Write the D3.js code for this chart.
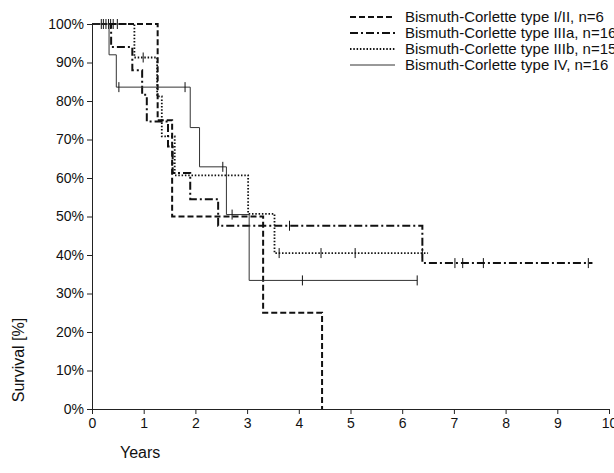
<!DOCTYPE html>
<html><head><meta charset="utf-8">
<script src="https://cdn.jsdelivr.net/npm/d3@7"></script>
<style>body{margin:0;background:#fff}svg{display:block;font-family:"Liberation Sans",Arial,sans-serif}</style>
</head><body><svg id="c" width="614" height="473"></svg>
<script>
const xTicks = [0,1,2,3,4,5,6,7,8,9,10];
const yTicks = [0,10,20,30,40,50,60,70,80,90,100];
const seriesNames = ["Bismuth-Corlette type I/II, n=6","Bismuth-Corlette type IIIa, n=16","Bismuth-Corlette type IIIb, n=15","Bismuth-Corlette type IV, n=16"];

const t12 = [0,1.27,1.55,3.31,4.45];
const s12 = [100,75,50,25,0];
const c12T = [0.36,0.49];
const c12S = [100,100];

const t3a = [0,0.37,0.78,0.97,1.06,1.47,1.56,1.9,2.44,6.39,9.68];
const s3a = [100,94,88,81.6,74.7,68.2,61.3,54.5,47.6,37.9,37.9];
const c3aT = [0.22,0.32,3.82,7.02,7.17,7.57,9.6];
const c3aS = [100,100,47.6,37.9,37.9,37.9,37.9];

const t3b = [0,0.82,1.26,1.35,1.6,3.02,3.53,6.5];
const s3b = [100,91.3,81.2,70.8,60.7,50.7,40.5,40.5];
const c3bT = [0.18,0.27,0.41,0.99,3.62,4.43,5.09,6.39];
const c3bS = [100,100,100,91.3,40.5,40.5,40.5,40.5];

const t4 = [0,0.33,0.47,1.9,2.08,2.6,3.04,6.29];
const s4 = [100,92,83.6,73.1,62.9,50.5,33.4,33.4];
const c4T = [0.52,1.8,2.53,2.71,4.07,6.29];
const c4S = [83.6,83.6,62.9,50.5,33.4,33.4];

const styles = [
  {w:2, dash:"6,3", color:"#111"},
  {w:2, dash:"8,3,2,3", color:"#111"},
  {w:1.8, dash:"1.5,1.8", color:"#111"},
  {w:1, dash:null, color:"#333"}
];
const series = [
  {t:t12,s:s12,ct:c12T,cs:c12S},
  {t:t3a,s:s3a,ct:c3aT,cs:c3aS},
  {t:t3b,s:s3b,ct:c3bT,cs:c3bS},
  {t:t4,s:s4,ct:c4T,cs:c4S}
];

const svg = d3.select("#c");
const x = d3.scaleLinear().domain([0,10]).range([92,609]);
const y = d3.scaleLinear().domain([0,100]).range([409,24]);

const gx = svg.append("g").attr("transform","translate(0,409)")
  .call(d3.axisBottom(x).tickValues(xTicks).tickSize(5).tickSizeOuter(0).tickFormat(d3.format("d")));
gx.selectAll("text").attr("font-size",14).attr("font-family","Liberation Sans, Arial").attr("dy","0.8em").attr("fill","#111");
const gy = svg.append("g").attr("transform","translate(92,0)")
  .call(d3.axisLeft(y).tickValues(yTicks).tickSize(5).tickSizeOuter(0).tickFormat(d=>d+"%"));
gy.selectAll("text").attr("font-size",14).attr("font-family","Liberation Sans, Arial").attr("x",-8).attr("fill","#111");
svg.selectAll(".domain, .tick line").attr("stroke","#222");

const line = d3.line().x(d=>x(d[0])).y(d=>y(d[1])).curve(d3.curveStepAfter);
series.forEach((sr,i)=>{
  const st = styles[i];
  const pts = sr.t.map((t,j)=>[t,sr.s[j]]);
  svg.append("path").attr("d",line(pts)).attr("fill","none")
    .attr("stroke",st.color).attr("stroke-width",st.w)
    .attr("stroke-dasharray",st.dash);
  sr.ct.forEach((t,j)=>{
    svg.append("line").attr("x1",x(t)).attr("x2",x(t))
      .attr("y1",y(sr.cs[j])-5).attr("y2",y(sr.cs[j])+5)
      .attr("stroke","#111").attr("stroke-width",1);
  });
});

// legend
const lg = svg.append("g");
seriesNames.forEach((n,i)=>{
  const st = styles[i];
  const yy = 17 + i*16;
  lg.append("line").attr("x1",350).attr("x2",395).attr("y1",yy).attr("y2",yy)
    .attr("stroke",st.color).attr("stroke-width",st.w).attr("stroke-dasharray",st.dash);
  lg.append("text").attr("x",405).attr("y",yy).attr("dy","0.35em")
    .attr("font-size",15).attr("fill","#111").text(n);
});

svg.append("text").attr("transform","translate(24,360) rotate(-90)")
  .attr("text-anchor","middle").attr("font-size",16).attr("fill","#111").text("Survival [%]");
svg.append("text").attr("x",120).attr("y",458).attr("font-size",16).attr("fill","#111").text("Years");
</script></body></html>
